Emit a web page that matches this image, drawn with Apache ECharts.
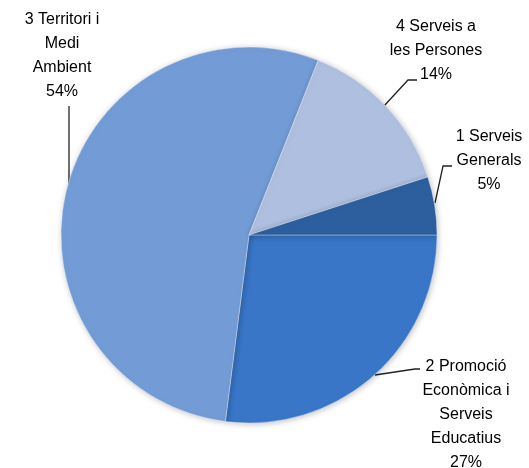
<!DOCTYPE html>
<html>
<head>
<meta charset="utf-8">
<script src="https://cdn.jsdelivr.net/npm/echarts@6/dist/echarts.min.js"></script>
<style>html,body{margin:0;padding:0;background:#fff}#c{width:529px;height:468px}</style>
</head>
<body>
<div id="c"></div>
<script>
const categories = ["2 Promoció\nEconòmica i\nServeis\nEducatius", "3 Territori i\nMedi\nAmbient", "4 Serveis a\nles Persones", "1 Serveis\nGenerals"];
const values = [27, 54, 14, 5];
const colors = ["#3a76c8", "#739cd7", "#aebfe0", "#2d5e9e"];

// label placement (text block top-centre) and leader lines, per slice
const labelPos = [
  {x: 466, y: 355, line: [[375, 375], [415, 369], [420, 369]]},
  {x: 62, y: 8, line: [[69, 192], [69, 150], [69, 106]]},
  {x: 436, y: 15, line: [[384, 106], [408, 80], [417, 80]]},
  {x: 489, y: 125, line: [[435, 203], [443, 166], [452, 166]]}
];

const chart = echarts.init(document.getElementById('c'), null, {renderer: 'canvas'});
chart.setOption({
  animation: false,
  series: [{
    type: 'pie',
    center: [249, 235],
    radius: 188,
    startAngle: 0,
    clockwise: true,
    avoidLabelOverlap: false,
    data: categories.map((n, i) => ({
      name: n, value: values[i],
      itemStyle: {
        color: colors[i]
      }
    })),
    itemStyle: {
      borderColor: 'rgba(255,255,255,0.35)',
      borderWidth: 1,
      shadowBlur: 6,
      shadowColor: 'rgba(0,0,0,0.25)',
      shadowOffsetX: 1,
      shadowOffsetY: 1
    },
    label: {
      show: true,
      position: 'outside',
      formatter: p => p.name + '\n' + p.value + '%',
      color: '#000',
      fontFamily: 'Liberation Sans',
      fontSize: 16,
      lineHeight: 24,
      align: 'center',
      overflow: 'none',
      width: 200
    },
    labelLine: {
      show: true,
      lineStyle: {color: '#222', width: 1.3}
    },
    labelLayout: function (p) {
      const lp = labelPos[p.dataIndex];
      return {
        x: lp.x, y: lp.y, align: 'center', verticalAlign: 'top',
        labelLinePoints: lp.line
      };
    }
  }]
});
</script>
</body>
</html>
